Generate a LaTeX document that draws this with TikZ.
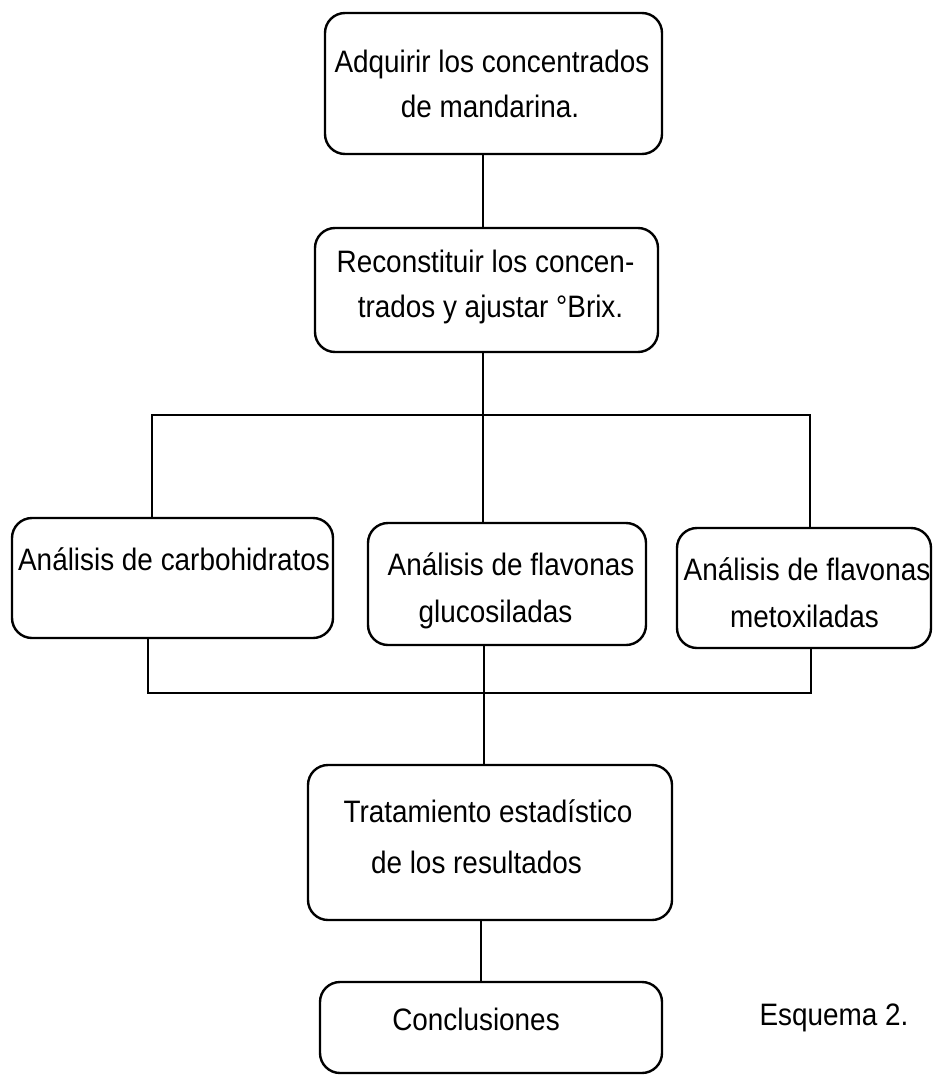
\documentclass[tikz,border=0pt]{standalone}
\usepackage{fontspec}
\setmainfont{Liberation Sans}[FakeStretch=0.9]
\begin{document}
\begin{tikzpicture}[x=1pt,y=-1pt,
  box/.style={draw, line width=2.4pt, rounded corners=20pt, inner sep=0pt},
  txt/.style={anchor=base, inner sep=0pt, font=\fontsize{31}{37}\selectfont},
  conn/.style={line width=2pt}]
\useasboundingbox (0,0) rectangle (934,1076);
% boxes
\node[box, minimum width=337pt, minimum height=141pt] (b1) at (493.5,83.5) {};
\node[box, minimum width=343pt, minimum height=124pt] (b2) at (486.5,290) {};
\node[box, minimum width=321pt, minimum height=120pt] (b3) at (172.5,578) {};
\node[box, minimum width=278pt, minimum height=122pt] (b4) at (507,584) {};
\node[box, minimum width=254pt, minimum height=120pt] (b5) at (804,588) {};
\node[box, minimum width=364pt, minimum height=155pt] (b6) at (490,842.5) {};
\node[box, minimum width=342pt, minimum height=91pt] (b7) at (491,1027.5) {};
% texts
\node[txt] (t1a) at (492,72) {Adquirir los concentrados};
\node[txt] (t1b) at (490,117) {de mandarina.};
\node[txt] (t2a) at (485.5,272) {Reconstituir los concen-};
\node[txt] (t2b) at (490.5,317) {trados y ajustar °Brix.};
\node[txt] (t3) at (174,570) {Análisis de carbohidratos};
\node[txt] (t4a) at (511,575) {Análisis de flavonas};
\node[txt] (t4b) at (495.5,622) {glucosiladas};
\node[txt] (t5a) at (807,580) {Análisis de flavonas};
\node[txt] (t5b) at (804.5,627) {metoxiladas};
\node[txt] (t6a) at (488,822) {Tratamiento estadístico};
\node[txt] (t6b) at (476.5,873) {de los resultados};
\node[txt] (t7) at (476,1030) {Conclusiones};
\node[txt] (cap) at (834,1025) {Esquema 2.};
% junction coordinates
\coordinate (mx) at (483,0);
\coordinate (tl) at (152,415);
\coordinate (tm) at (483,415);
\coordinate (tr) at (810,415);
\coordinate (bl) at (148,693);
\coordinate (bm) at (484,693);
\coordinate (br) at (811,693);
\coordinate (m2) at (481,0);
% connectors
\draw[conn] (b1.south -| mx) -- (b2.north -| mx);
\draw[conn] (b2.south -| mx) -- (tm);
\draw[conn] (b3.north -| tl) -- (tl) -- (tr) -- (b5.north -| tr);
\draw[conn] (tm) -- (b4.north -| tm);
\draw[conn] (b3.south -| bl) -- (bl) -- (br) -- (b5.south -| br);
\draw[conn] (b4.south -| bm) -- (bm) -- (b6.north -| bm);
\draw[conn] (b6.south -| m2) -- (b7.north -| m2);
\end{tikzpicture}
\end{document}
